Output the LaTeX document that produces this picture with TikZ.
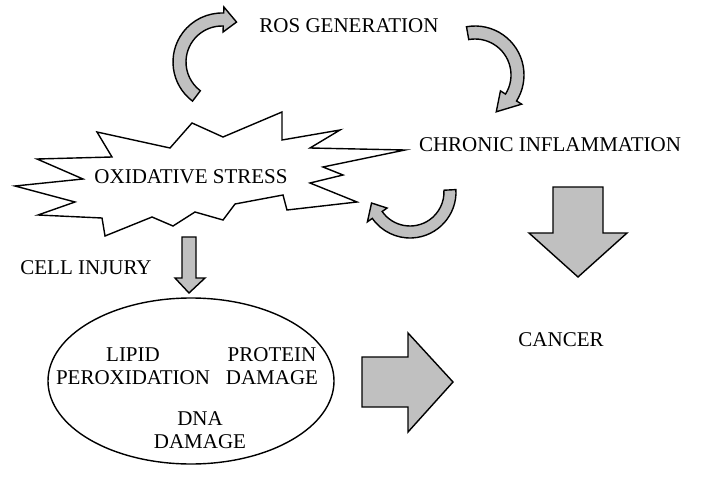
\documentclass[tikz,border=0pt]{standalone}
\usepackage{fontspec}
\setmainfont{Liberation Serif}
\usetikzlibrary{calc,shapes.geometric}
\definecolor{arrowgray}{RGB}{192,192,192}

% curved block arrow: centre x, centre y, inner r, outer r, tail angle, neck angle, tip angle, barb
\newcommand{\curvarrow}[8]{%
  \filldraw[blockarrow] (#1,#2) ++(#5:#4) arc[start angle=#5,end angle=#6,radius=#4]
    -- ($(#1,#2)+(#6:{#4+#8})$) -- ($(#1,#2)+(#7:{(#3+#4)/2})$)
    -- ($(#1,#2)+(#6:{#3-#8})$) -- ($(#1,#2)+(#6:#3)$)
    arc[start angle=#6,end angle=#5,radius=#3] -- cycle;}

\begin{document}
\begin{tikzpicture}[x=1pt,y=1pt,
    blockarrow/.style={draw=black,fill=arrowgray,line width=1.4pt,line join=miter},
    lbl/.style={font=\fontsize{21}{23}\selectfont,align=center,inner sep=0pt}]
  \useasboundingbox (0,0) rectangle (703,480);

  \filldraw[fill=white,line width=1.4pt,line join=miter]
    (97,348) -- (112,323) -- (37,321) -- (83,301) -- (15,294) -- (75,278)
    -- (38,265) -- (102,262) -- (105,244) -- (152,263) -- (173,254) -- (195,268)
    -- (223,260) -- (235,276) -- (283,285) -- (287,270) -- (357,278) -- (310,297)
    -- (343,305) -- (323,313) -- (405,330) -- (310,332) -- (340,350) -- (282,340)
    -- (282,368) -- (223,343) -- (192,357) -- (170,332) -- cycle;

  \node[lbl] (ros) at (349,454) {ROS GENERATION};
  \node[lbl] (inflam) at (550,335) {CHRONIC INFLAMMATION};
  \node[lbl] (oxstress) at (191,303) {OXIDATIVE STRESS};
  \node[lbl] (injury) at (86,212) {CELL INJURY};
  \node[lbl] (cancer) at (561,140) {CANCER};

  \node[draw,ellipse,line width=1.4pt,minimum width=286pt,minimum height=166pt,
        inner sep=0pt] (effects) at (191,99) {};
  \node[lbl] (lipid) at (133,114) {LIPID\\PEROXIDATION};
  \node[lbl] (protein) at (272,114) {PROTEIN\\DAMAGE};
  \node[lbl] (dna) at (200,50) {DNA\\DAMAGE};

  \curvarrow{222}{418}{36}{49}{233}{88}{70}{6}
  \curvarrow{475}{405}{36}{49}{100}{-32}{-60}{6}
  \curvarrow{410}{288}{34}{46}{3}{-145}{-164}{6}

  \filldraw[blockarrow] (182,243) -- (196,243) -- (196,202) -- (205,202)
    -- (189,187) -- (175,202) -- (182,202) -- cycle;
  \filldraw[blockarrow] (553,293) -- (603,293) -- (603,247) -- (627,247)
    -- (578,203) -- (529,247) -- (553,247) -- cycle;
  \filldraw[blockarrow] (362,123) -- (408,123) -- (408,147) -- (453,98)
    -- (408,48) -- (408,73) -- (362,73) -- cycle;
\end{tikzpicture}
\end{document}
